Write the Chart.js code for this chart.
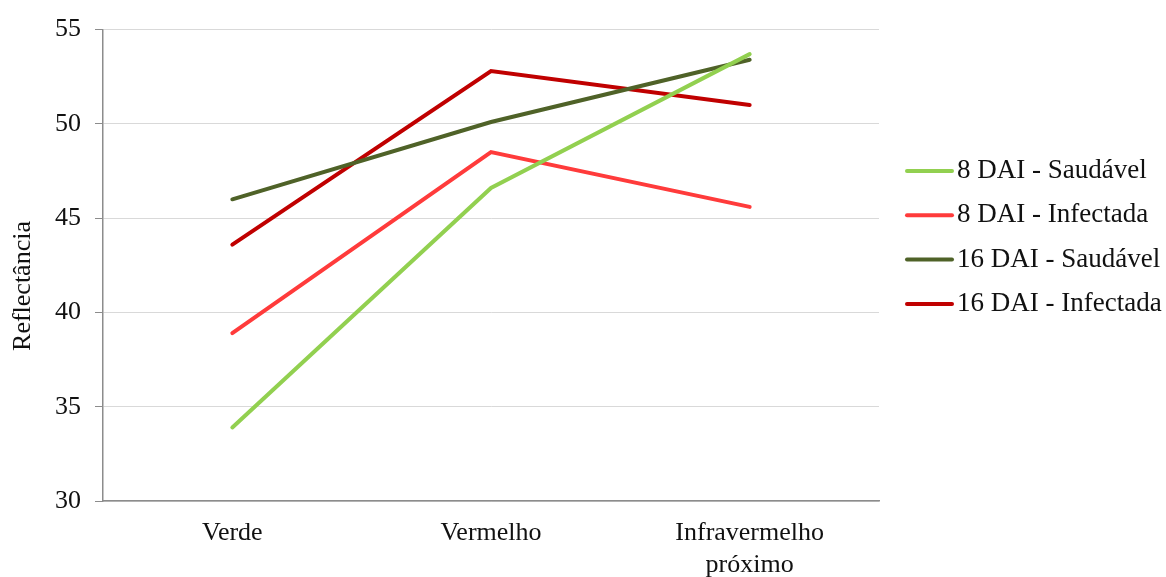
<!DOCTYPE html>
<html>
<head>
<meta charset="utf-8">
<script src="https://cdn.jsdelivr.net/npm/chart.js@4.4.1/dist/chart.umd.min.js"></script>
<style>
  html, body { margin: 0; padding: 0; background: #ffffff; }
  #wrap { width: 1166px; height: 577px; position: relative; }
</style>
</head>
<body>
<div id="wrap"><canvas id="chart" width="1166" height="577"></canvas></div>
<script>
// Spectral bands on the category axis
const categories = ['Verde', 'Vermelho', ['Infravermelho', 'próximo']];

// Reflectance per band for each treatment
const saudavel8 = [33.9, 46.6, 53.7];
const infectada8 = [38.9, 48.5, 45.6];
const saudavel16 = [46.0, 50.1, 53.4];
const infectada16 = [43.6, 52.8, 51.0];

const seriesNames = ['8 DAI - Saudável', '8 DAI - Infectada', '16 DAI - Saudável', '16 DAI - Infectada'];
const seriesColors = ['#92d050', '#ff3b3b', '#4f6228', '#c00000'];

const yTitle = 'Reflectância';
const yMin = 30, yMax = 55, yStep = 5;

const FONT = '"Liberation Serif", "Times New Roman", serif';
const TEXT = '#111111';

const seriesValues = [saudavel8, infectada8, saudavel16, infectada16];

// Legend on the right plus the rotated value-axis title
const sideDecor = {
  id: 'sideDecor',
  afterDraw(chart) {
    const ctx = chart.ctx;
    ctx.save();
    ctx.font = '27px ' + FONT;
    ctx.textBaseline = 'middle';
    ctx.textAlign = 'left';
    chart.data.datasets.forEach((ds, i) => {
      const y = 171 + i * 44.3;
      ctx.strokeStyle = ds.borderColor;
      ctx.lineWidth = 4;
      ctx.lineCap = 'round';
      ctx.beginPath();
      ctx.moveTo(907, y);
      ctx.lineTo(952, y);
      ctx.stroke();
      ctx.fillStyle = TEXT;
      ctx.fillText(ds.label, 957, y);
    });

    // value-axis title, set slightly below the plot's mid-height
    ctx.translate(23, 286);
    ctx.rotate(-Math.PI / 2);
    ctx.textAlign = 'center';
    ctx.font = '26px ' + FONT;
    ctx.fillText(yTitle, 0, 0);
    ctx.restore();
  }
};

new Chart(document.getElementById('chart'), {
  type: 'line',
  data: {
    labels: categories,
    datasets: seriesValues.map((vals, i) => ({
      label: seriesNames[i],
      data: vals,
      borderColor: seriesColors[i],
      backgroundColor: seriesColors[i],
      borderWidth: 4,
      borderCapStyle: 'round',
      borderJoinStyle: 'miter',
      pointRadius: 0,
      tension: 0,
      fill: false
    }))
  },
  options: {
    responsive: false,
    animation: false,
    devicePixelRatio: 1,
    layout: { padding: { top: 29, right: 287, left: 0, bottom: 0 } },
    plugins: {
      legend: { display: false },
      tooltip: { enabled: false }
    },
    scales: {
      x: {
        offset: true,
        grid: { display: false, drawTicks: false },
        border: { display: true, color: '#8c8c8c', width: 1.5 },
        ticks: {
          color: TEXT,
          font: { family: FONT, size: 26 },
          padding: 17,
          maxRotation: 0,
          autoSkip: false
        },
        afterFit(scale) { scale.height = 76; }
      },
      y: {
        min: yMin,
        max: yMax,
        grid: {
          color: '#d9d9d9',
          lineWidth: 1,
          tickLength: 8,
          tickColor: '#8c8c8c',
          drawTicks: true
        },
        border: { display: true, color: '#8c8c8c', width: 1.5 },
        ticks: {
          stepSize: yStep,
          color: TEXT,
          font: { family: FONT, size: 26 },
          padding: 14
        },
        afterFit(scale) { scale.width = 103; }
      }
    }
  },
  plugins: [sideDecor]
});
</script>
</body>
</html>
